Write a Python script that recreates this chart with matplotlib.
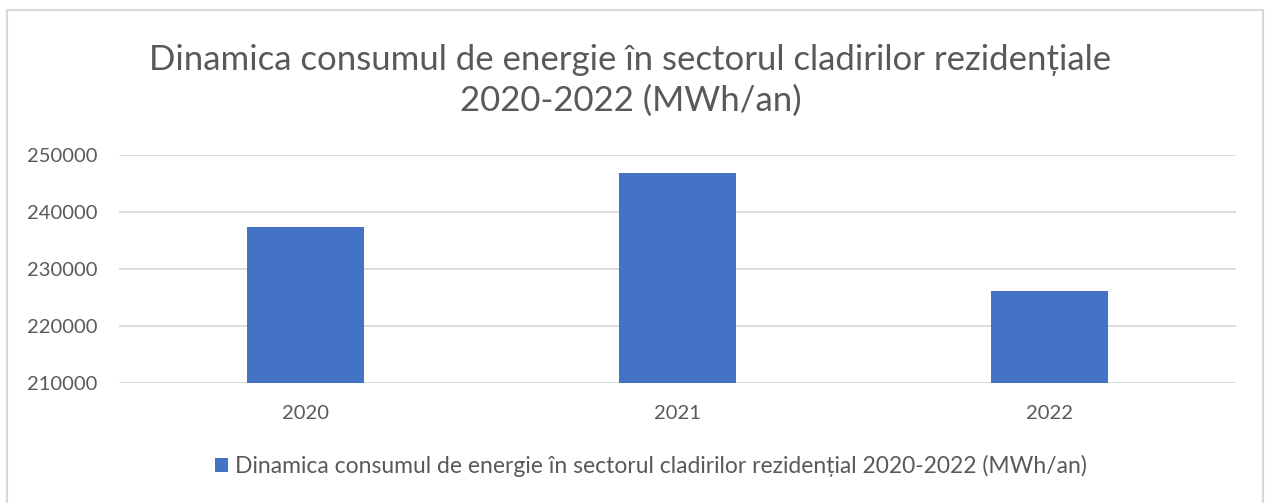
import numpy as np
import matplotlib.pyplot as plt
from matplotlib.patches import Rectangle

years = ['2020', '2021', '2022']
consum = [237370, 246790, 226040]
y_ticks = [210000, 220000, 230000, 240000, 250000]

titlu = 'Dinamica consumul de energie în sectorul cladirilor rezidențiale\n2020-2022 (MWh/an)'
serie = 'Dinamica consumul de energie în sectorul cladirilor rezidențial 2020-2022 (MWh/an)'

plt.rcParams['font.family'] = ['Lato', 'DejaVu Sans']
text_col = '#595959'

fig = plt.figure(figsize=(12.65, 5.03), dpi=100)
ax = fig.add_axes([0.0943, 0.2392, 0.8827, 0.4532])

x = np.arange(len(years))
bars = ax.bar(x, consum, width=0.314, color='#4472C4', label=serie, zorder=3)

ax.set_xlim(-0.5, len(years) - 0.5)
ax.set_ylim(y_ticks[0], y_ticks[-1])
ax.set_yticks(y_ticks)
ax.set_yticklabels([str(v) for v in y_ticks])
ax.set_xticks(x)
ax.set_xticklabels(years)
ax.tick_params(axis='both', length=0, labelsize=14.5, colors=text_col)
ax.tick_params(axis='y', pad=16)
ax.tick_params(axis='x', pad=16)
ax.grid(axis='y', color='#D9D9D9', linewidth=1.3, zorder=0)
for s in ax.spines.values():
    s.set_visible(False)

fig.text(0.4984, 0.84, titlu, ha='center', va='center', fontsize=25,
         color=text_col, linespacing=1.35)

fig.legend(handles=[bars], labels=[serie],
           loc='center', bbox_to_anchor=(0.5146, 0.073), frameon=False,
           fontsize=16.5, labelcolor=text_col, handlelength=0.55,
           handleheight=0.55, handletextpad=0.3)

# chart border
fig.patches.append(Rectangle((7 / 1265, -0.05), 1256 / 1265, 1 - 10 / 503 + 0.05,
                             transform=fig.transFigure, fill=False,
                             edgecolor='#D9D9D9', linewidth=1.5))

fig.savefig('out.png', dpi=100)
